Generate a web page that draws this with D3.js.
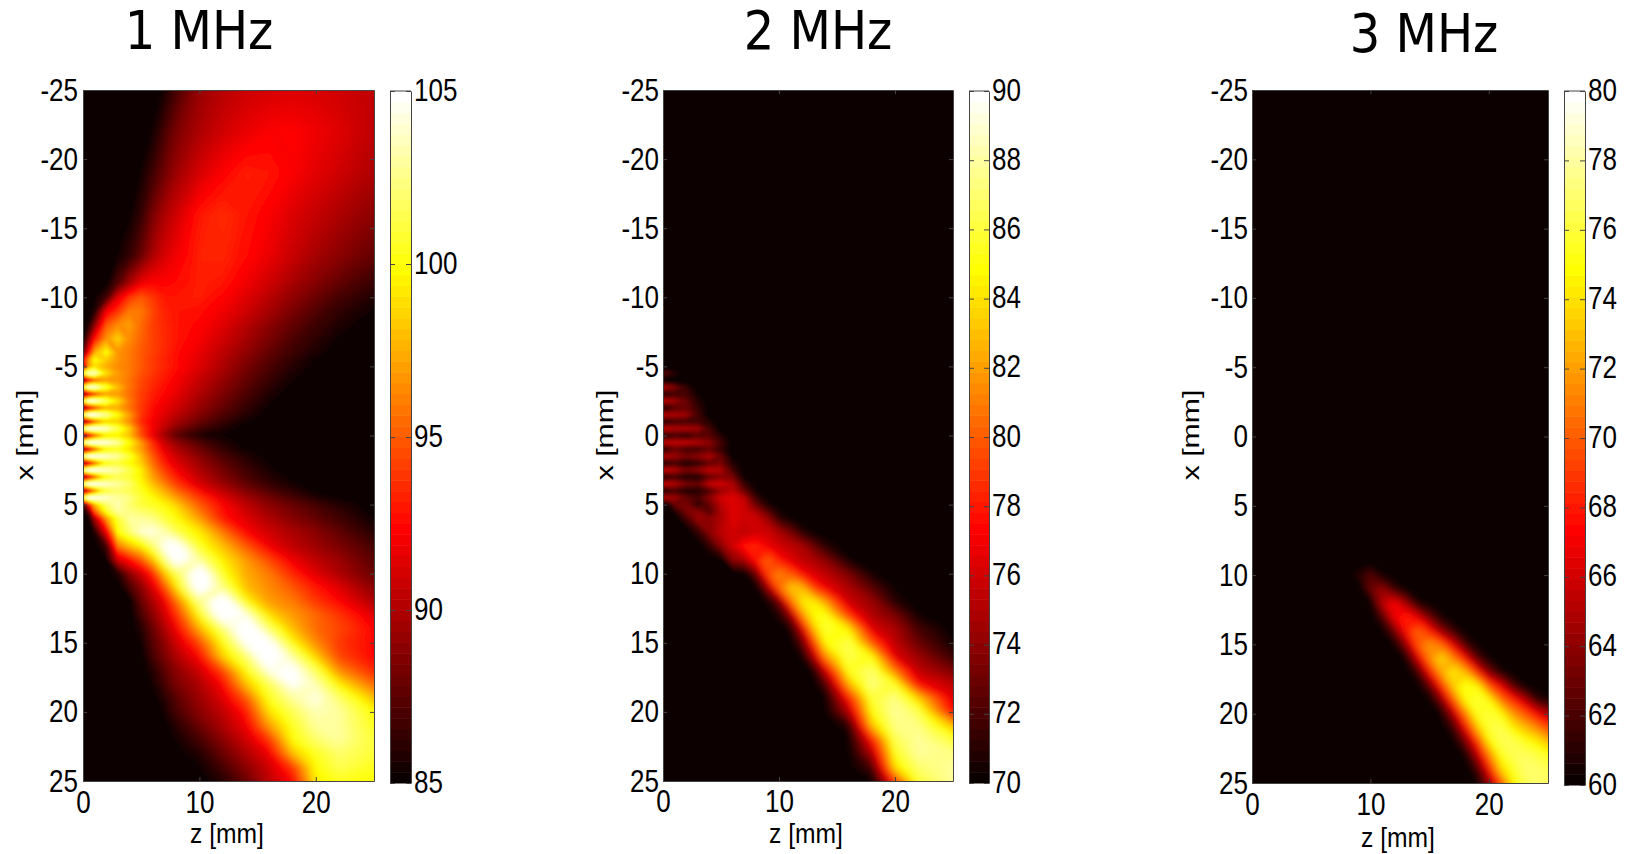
<!DOCTYPE html>
<html>
<head>
<meta charset="utf-8">
<script src="https://cdn.jsdelivr.net/npm/d3@7"></script>
<style>
  html, body { margin: 0; padding: 0; background: #fff; }
  svg { display: block; }
  text { font-family: "Liberation Sans", Arial, sans-serif; fill: #000; }
  .title { font-family: "DejaVu Sans", sans-serif; }
</style>
</head>
<body>
<svg id="chart" width="1630" height="854"></svg>
<script>
// 1 MHz, level, one row per x [mm]
// the core of the beam saturates the colour scale, so its level is only a guess above 105
const zs1 = [0, .5, 1, 2, 3, 4, 5, 6, 7, 8, 10, 12, 14, 16, 18, 20, 22, 25];
const xs1 = [-25, -22, -19, -16, -13, -11, -10, -9, -8, -7, -6, -5.5, -5, -4.5, -4, -3.5, -3, -2.5, -2, -1.5, -1, -.5, 0,
  .5, 1, 1.5, 2, 2.5, 3, 3.5, 4, 4.5, 5, 5.5, 6, 7, 8, 9, 10, 11, 12, 13, 14, 15, 16, 17, 18, 19, 20, 21, 22, 23, 24, 25];
const levels1 = [
  [85,85,85,85,85,85,85,85,85.5,87,89.4,90.3,90.9,91.2,91.4,91.3,91,90.6],
  [85,85,85,85,85,85,85,85.5,87,88.5,90,91,91.8,92.3,92.4,92,91.5,90.5],
  [85,85,85,85,85,85,85.5,86.8,88.2,89.5,91.2,92.4,93.2,93,92.3,91.6,91,90],
  [85,85,85,85,85,85.3,86.5,88.5,90,91,93,93.6,93,92.3,91.4,90.7,90,89],
  [85,85,85,85,85.5,86.5,88,90,91.2,92,93.3,93.4,92.7,91.8,90.8,89.8,89,87.8],
  [85,85,85,85.3,87.5,90,92,92.5,92.5,92.7,93.2,93,92,91,89.8,88.8,87.8,86.5],
  [85,85,85.3,87,91.5,94,95,94,93,93,93.2,92.5,91.5,90.3,89.2,88,87,85.8],
  [85,85,86,92,94,96,96,94.5,93.3,93,92.8,92,91,89.8,88.5,87.3,86.3,85.3],
  [85,86,89,95,96.5,97,95.5,94.2,93.5,93,92.5,91.5,90.3,89,87.8,86.7,85.8,85],
  [85,89,93,96.8,98.5,96.5,95.3,94.3,93.6,93,92.2,91,89.8,88.5,87.2,86.2,85.3,85],
  [88,93,97.5,100,96.8,96,95,94.3,93.5,92.8,91.8,90.5,89.2,87.8,86.7,85.7,85,85],
  [92,97,100,98.5,96.8,96,95,94,93.3,92.7,91.5,90.2,88.8,87.5,86.3,85.3,85,85],
  [90,97,99,97.5,96.5,96,95,94.2,93.4,92.8,91.5,90,88.5,87.2,86,85.2,85,85],
  [100,104,104,99,97,96,94.8,94,93.2,92.5,91,89.7,88.2,86.9,85.7,85,85,85],
  [88,92,95,97,96.8,95.8,94.5,93.7,93,92.2,90.7,89.3,87.8,86.5,85.4,85,85,85],
  [100,104.5,104.5,101,98,95.8,94.5,93.5,92.7,92,90.4,89,87.5,86.2,85.1,85,85,85],
  [88,91,94,97,97,95.6,94.2,93.2,92.5,91.7,90,88.6,87.2,85.8,85,85,85,85],
  [100,104.5,104.5,102,99,96,94.2,93,92.2,91.4,89.7,88.2,86.8,85.5,85,85,85,85],
  [88,91,94,97.5,97.5,95.8,94,92.7,91.8,91,89.3,87.8,86.4,85.2,85,85,85,85],
  [101,105,105,103,100,97,94,92.5,91.5,90.5,88.8,87.3,86,85,85,85,85,85],
  [88,91,95,98.5,98.5,96.5,93.5,92,91,89.8,88,86.5,85.3,85,85,85,85,85],
  [102,105,105,104,101.5,98.5,94.5,92.3,90.5,88.8,87,85.8,85,85,85,85,85,85],
  [88,91,95,99,99.5,98,94.5,91.5,89,87,85.3,85,85,85,85,85,85,85],
  [102,105,105,104.5,103,100,97,93.5,91,89.5,87.5,86,85,85,85,85,85,85],
  [88,91,95,99.5,100.5,99,97,94,91.5,90,88,86.3,85.2,85,85,85,85,85],
  [102,105,105,104,103,101,98,95,92.5,91,89,87.2,86,85,85,85,85,85],
  [88,91,95,100,101,100,98.5,95.5,93,91.5,89.5,87.8,86.3,85.3,85,85,85,85],
  [102,105,105,104,103,101.5,99.5,96.5,94,92.3,90,88.3,86.8,85.6,85,85,85,85],
  [88,91,95,100,101.5,101,99.5,97,95,93,90.6,88.8,87.2,86,85.2,85,85,85],
  [102,105,105,104,103,102,100,98,96,94,91.2,89.3,87.7,86.3,85.5,85,85,85],
  [88,92,96,101,102,101.5,100.5,99,97.5,95.5,92.5,90.5,88.7,87.3,86.2,85.1,85,85],
  [101,105,105,104,103,102.5,101,100,98.5,97,94,91.5,89.7,88.2,87,85.8,85,85],
  [87,93,98,102,103.5,102,101,100.5,100,98.5,95,92.5,90.5,89,88,87,86,85],
  [85,88,95,100.5,103,102.5,102,101.5,100.5,99.5,96,92.8,91,89.5,88.4,87.4,86.4,85.1],
  [85,85.5,90,97,101,103,103,102.5,101,100,97,93,91.5,90,88.8,87.8,86.8,85.3],
  [85,85,86,92,100,102,104,104.5,103.5,101.5,99.5,96,92.5,91,90,89,87.8,86],
  [85,85,85,87,96,98,99.5,102,105,106,100.5,98,95,92,90.5,89.5,88.5,87],
  [85,85,85,85.5,91,93,95,98,102,106.5,103,99.5,97,94.5,92,90.5,89.5,87.5],
  [85,85,85,85,86,89,91,93.5,98,101,107,100.5,97.5,96,93.5,91.5,90,88],
  [85,85,85,85,85,87,89,91.5,94.5,99,106.5,102.5,98,96.5,95,93,91.5,89],
  [85,85,85,85,85,85.3,88,90,92,95.5,102.5,107,100,97,96,94,92.5,90],
  [85,85,85,85,85,85,87,89,91,93.5,100,106.5,104.5,99,97,95.5,94,91.5],
  [85,85,85,85,85,85,86,88,90,92,97.5,102,107,102,98,95.5,94.5,92.5],
  [85,85,85,85,85,85,85.5,87.5,89,91,94.5,100,105,105.5,100,96.5,94,92.5],
  [85,85,85,85,85,85,85,87,88.5,90,92.5,98.5,102,107,103,98.5,94.5,92.5],
  [85,85,85,85,85,85,85,86,87.5,89,91,94.5,100,104.5,105.5,101.5,96.5,93.5],
  [85,85,85,85,85,85,85,85.5,87,88.5,90,92.5,98,101.5,105,103.5,99.5,95.5],
  [85,85,85,85,85,85,85,85,86,87.5,89.5,91.5,95,100.5,103,104.5,102,98],
  [85,85,85,85,85,85,85,85,85.5,87,89,90.5,93,99,101.5,103.5,103,100],
  [85,85,85,85,85,85,85,85,85,86,88,90,92,97,100.5,103,103,100.5],
  [85,85,85,85,85,85,85,85,85,85.5,87,89,91,94,100,102,103,101],
  [85,85,85,85,85,85,85,85,85,85,86,88,90,92,98,100.5,102,101],
  [85,85,85,85,85,85,85,85,85,85,85.3,87,89,91,94,100,101.5,100.5],
  [85,85,85,85,85,85,85,85,85,85,85,86,88,90.5,92.5,99.5,100.5,100]
];

// 2 MHz
const zs2 = [0, .5, 1, 2, 3, 4, 5, 6, 7, 8, 9, 10, 11, 12, 13, 14, 16, 18, 20, 22, 25];
const xs2 = [-25, -5, -4.5, -4, -3.5, -3, -2.5, -2, -1.5, -1, -.5, 0, .5, 1, 1.5, 2, 2.5, 3, 3.5, 4, 4.5, 5, 5.5, 6,
  7, 8, 9, 10, 11, 12, 13, 14, 15, 16, 17, 18, 19, 20, 21, 22, 23, 24, 25];
const levels2 = [
  [70,70,70,70,70,70,70,70,70,70,70,70,70,70,70,70,70,70,70,70,70],
  [70,70,70,70,70,70,70,70,70,70,70,70,70,70,70,70,70,70,70,70,70],
  [72.5,72,71,70,70,70,70,70,70,70,70,70,70,70,70,70,70,70,70,70,70],
  [70,70,70,70,70,70,70,70,70,70,70,70,70,70,70,70,70,70,70,70,70],
  [75,74.5,73.5,71.5,70,70,70,70,70,70,70,70,70,70,70,70,70,70,70,70,70],
  [71,71.5,72,72,70.5,70,70,70,70,70,70,70,70,70,70,70,70,70,70,70,70],
  [75.5,75,74.5,73,71,70,70,70,70,70,70,70,70,70,70,70,70,70,70,70,70],
  [71,71.5,72.5,73,71.5,70,70,70,70,70,70,70,70,70,70,70,70,70,70,70,70],
  [75.5,75,75,74.5,72,70,70,70,70,70,70,70,70,70,70,70,70,70,70,70,70],
  [71,71.5,72,72,72,71,70,70,70,70,70,70,70,70,70,70,70,70,70,70,70],
  [75.5,75.5,75,75,74.5,72,70,70,70,70,70,70,70,70,70,70,70,70,70,70,70],
  [71,71.5,72,71.5,72.5,72.5,71,70,70,70,70,70,70,70,70,70,70,70,70,70,70],
  [75.5,75.5,75.5,75.5,75,74,72,70,70,70,70,70,70,70,70,70,70,70,70,70,70],
  [71,72,73,72,72,73,71.5,70,70,70,70,70,70,70,70,70,70,70,70,70,70],
  [75,75,74.5,73.5,74,75,73,70.3,70,70,70,70,70,70,70,70,70,70,70,70,70],
  [71,71.5,72,71,71.5,73,73.5,71,70,70,70,70,70,70,70,70,70,70,70,70,70],
  [75.5,75.5,75,73.5,74,75.5,75,72,70,70,70,70,70,70,70,70,70,70,70,70,70],
  [71,71.5,72,71,71,73,74,73.5,70.3,70,70,70,70,70,70,70,70,70,70,70,70],
  [75.5,75.5,75,73.5,73,75.5,76,75,71.5,70,70,70,70,70,70,70,70,70,70,70,70],
  [71,71.5,72,71,71,72.5,74.5,75.5,73,70.3,70,70,70,70,70,70,70,70,70,70,70],
  [75,75,74.5,73,72,74,76,76.5,75.5,71.5,70,70,70,70,70,70,70,70,70,70,70],
  [70,71,73,73.5,71.5,73,75.5,76.5,76,73,70.3,70,70,70,70,70,70,70,70,70,70],
  [70,70,71,73.5,74,72.5,75,76.5,76,75,72.5,70.3,70,70,70,70,70,70,70,70,70],
  [70,70,70,72,74.5,74,75,76.5,76,76,74.5,71,70,70,70,70,70,70,70,70,70],
  [70,70,70,70,71.5,74,75.5,76,75.5,76,76,75,73.5,71,70,70,70,70,70,70,70],
  [70,70,70,70,70,71.5,74,76,78,78.5,77,76,75.5,75,73,71,70,70,70,70,70],
  [70,70,70,70,70,70,70.5,74,75,78,80.5,78,76.5,75.5,75,74,70.5,70,70,70,70],
  [70,70,70,70,70,70,70,70,70.3,73,79.5,81.5,80,77.5,76.3,75.5,73.5,70.5,70,70,70],
  [70,70,70,70,70,70,70,70,70,70,74,80.5,83.5,83,79,77,75,72.5,70.3,70,70],
  [70,70,70,70,70,70,70,70,70,70,70.5,73,80.5,84.5,84.5,82,75.8,74.5,71,70,70],
  [70,70,70,70,70,70,70,70,70,70,70,70.8,74,81.5,85,85.5,79,75,73.5,70.5,70],
  [70,70,70,70,70,70,70,70,70,70,70,70,70.5,76,83,86,84.5,76.5,75,72,70],
  [70,70,70,70,70,70,70,70,70,70,70,70,70,72.5,79,85,86.5,80,75.5,73,70.5],
  [70,70,70,70,70,70,70,70,70,70,70,70,70,70.3,75,81.5,86.5,85,76.5,74.5,71.5],
  [70,70,70,70,70,70,70,70,70,70,70,70,70,70,70.5,76,85.5,87,81,75.5,73.5],
  [70,70,70,70,70,70,70,70,70,70,70,70,70,70,70,72,82.5,87.5,85.5,77.5,75.5],
  [70,70,70,70,70,70,70,70,70,70,70,70,70,70,70,70,78,86,87.5,83.5,76.5],
  [70,70,70,70,70,70,70,70,70,70,70,70,70,70,70,70,75,85,88,86.5,77.5],
  [70,70,70,70,70,70,70,70,70,70,70,70,70,70,70,70,71,83,87.5,87.5,83],
  [70,70,70,70,70,70,70,70,70,70,70,70,70,70,70,70,70,78,86.5,88,86],
  [70,70,70,70,70,70,70,70,70,70,70,70,70,70,70,70,70,75,85.5,88,87.5],
  [70,70,70,70,70,70,70,70,70,70,70,70,70,70,70,70,70,72,84,87,88],
  [70,70,70,70,70,70,70,70,70,70,70,70,70,70,70,70,70,70,79,86,88]
];

// 3 MHz
const zs3 = [0, 8, 9, 10, 11, 12, 13, 14, 15, 16, 17, 18, 19, 20, 21, 22, 23, 24, 25];
const xs3 = [-25, 9, 10, 11, 12, 13, 14, 15, 16, 17, 18, 19, 20, 21, 22, 23, 24, 25];
const levels3 = [
  [60,60,60,60,60,60,60,60,60,60,60,60,60,60,60,60,60,60,60],
  [60,60,60,60,60,60,60,60,60,60,60,60,60,60,60,60,60,60,60],
  [60,60,61,62.5,60.3,60,60,60,60,60,60,60,60,60,60,60,60,60,60],
  [60,60,60,63,64.5,61.5,60,60,60,60,60,60,60,60,60,60,60,60,60],
  [60,60,60,60,65.5,67.5,64.5,60.5,60,60,60,60,60,60,60,60,60,60,60],
  [60,60,60,60,62,67,68.5,66.5,63,60.5,60,60,60,60,60,60,60,60,60],
  [60,60,60,60,60,63,68,70.5,68,64,61.5,60,60,60,60,60,60,60,60],
  [60,60,60,60,60,60,64,70,72,70.5,66.5,62,60.3,60,60,60,60,60,60],
  [60,60,60,60,60,60,60.3,66,71.5,74,71.5,67.5,62.5,60.5,60,60,60,60,60],
  [60,60,60,60,60,60,60,61.5,67.5,72.5,74.5,73,68.5,63.5,60.8,60,60,60,60],
  [60,60,60,60,60,60,60,60,62.5,68.5,73.5,75.5,75,70,67,62.5,60,60,60],
  [60,60,60,60,60,60,60,60,60,63.5,70,75,76,75,71,68.5,65.5,61.5,60.5],
  [60,60,60,60,60,60,60,60,60,60.2,65,71,75.5,76,75,72,70,67.5,65],
  [60,60,60,60,60,60,60,60,60,60,61.5,67,73,76,76.5,74.5,73,71.5,69.5],
  [60,60,60,60,60,60,60,60,60,60,60,63,68.5,74.5,76.5,76.5,75.5,74.5,73],
  [60,60,60,60,60,60,60,60,60,60,60,60,65,71,75.3,76.5,76.8,76.3,75.5],
  [60,60,60,60,60,60,60,60,60,60,60,60,61.5,67.5,73.5,75.5,77,77,76.5],
  [60,60,60,60,60,60,60,60,60,60,60,60,60,64,69.5,74.5,76.5,77,76.8]
];

const zTicks = [0, 10, 20];
const xTicks = [-25, -20, -15, -10, -5, 0, 5, 10, 15, 20, 25];
const barTicks1 = [85, 90, 95, 100, 105];
const barTicks2 = [70, 72, 74, 76, 78, 80, 82, 84, 86, 88, 90];
const barTicks3 = [60, 62, 64, 66, 68, 70, 72, 74, 76, 78, 80];

// sharpTo: z [mm] up to which the element fingers stay crisp
const panels = [
  { title: "1 MHz", titleX: 199, titleY: 49, zs: zs1, xs: xs1, levels: levels1, range: [85, 105], barTicks: barTicks1, sharpTo: 4,
    left: 83, right: 374, top: 90, bottom: 781, barLeft: 390, barRight: 411, barTop: 91, barBottom: 783,
    xLabelX: 24, zLabelX: 227, zLabelY: 843, xTickY: 813, tickGap: 5 },
  { title: "2 MHz", titleX: 818, titleY: 49, zs: zs2, xs: xs2, levels: levels2, range: [70, 90], barTicks: barTicks2, sharpTo: 6,
    left: 663, right: 953, top: 90, bottom: 781, barLeft: 969, barRight: 989, barTop: 91, barBottom: 783,
    xLabelX: 604, zLabelX: 806, zLabelY: 843, xTickY: 812, tickGap: 4 },
  { title: "3 MHz", titleX: 1424, titleY: 52, zs: zs3, xs: xs3, levels: levels3, range: [60, 80], barTicks: barTicks3, sharpTo: 8,
    left: 1252, right: 1548, top: 90, bottom: 783, barLeft: 1564, barRight: 1585, barTop: 91, barBottom: 785,
    xLabelX: 1190, zLabelX: 1398, zLabelY: 847, xTickY: 815, tickGap: 4 }
];

// matlab "hot"
const hot = d3.scaleLinear()
  .domain([0, .375, .75, 1])
  .range(["#000000", "#ff0000", "#ffff00", "#ffffff"])
  .clamp(true);

const frameColor = "#444";
const narrow = .84;
const svg = d3.select("#chart");
const defs = svg.append("defs");

// the reference is a soft jpeg, blur also hides the grid facets away from the fingers
defs.append("filter").attr("id", "soft")
  .append("feGaussianBlur").attr("stdDeviation", 1.2);
defs.append("filter").attr("id", "wide")
  .append("feGaussianBlur").attr("stdDeviation", 3.5);

panels.forEach((p, idx) => {
  const g = svg.append("g");
  const zScale = d3.scaleLinear().domain([0, 25]).range([p.left, p.right]);
  const xScale = d3.scaleLinear().domain([-25, 25]).range([p.top, p.bottom]);
  const tone = d3.scaleLinear().domain(p.range).range([0, 1]);

  // sample index -> pixel, the grid is not evenly spaced.
  // the outer half cell runs past the frame so the blur does not fade at the edges
  const bleed = 14;
  const edgeScale = (positions) => d3.scaleLinear()
    .domain([-.5, ...d3.range(positions.length), positions.length - .5])
    .range([positions[0] - bleed, ...positions, positions[positions.length - 1] + bleed]);
  const colPx = edgeScale(p.zs.map(zScale));
  const rowPx = edgeScale(p.xs.map(xScale));
  const path = d3.geoPath(d3.geoTransform({
    point(cx, cy) { this.stream.point(colPx(cx - .5), rowPx(cy - .5)); }
  }));

  const steps = 128;
  const thresholds = d3.range(1, steps).map(i => p.range[0] + (p.range[1] - p.range[0]) * i / steps);
  const contours = d3.contours()
    .size([p.zs.length, p.xs.length])
    .thresholds(thresholds)(p.levels.flat());

  defs.append("clipPath")
    .attr("id", `plot-${idx}`)
    .append("rect")
    .attr("x", p.left).attr("y", p.top)
    .attr("width", p.right - p.left).attr("height", p.bottom - p.top);

  // fade mask for the crisp copy, left part only
  const fade = defs.append("linearGradient")
    .attr("id", `fade-${idx}`)
    .attr("gradientUnits", "userSpaceOnUse")
    .attr("x1", zScale(p.sharpTo)).attr("x2", zScale(p.sharpTo + 3))
    .attr("y1", 0).attr("y2", 0);
  fade.append("stop").attr("offset", 0).attr("stop-color", "#fff");
  fade.append("stop").attr("offset", 1).attr("stop-color", "#000");
  defs.append("mask")
    .attr("id", `crisp-${idx}`)
    .attr("maskUnits", "userSpaceOnUse")
    .attr("x", p.left - bleed).attr("y", p.top - bleed)
    .attr("width", p.right - p.left + 2 * bleed).attr("height", p.bottom - p.top + 2 * bleed)
    .append("rect")
    .attr("x", p.left - bleed).attr("y", p.top - bleed)
    .attr("width", p.right - p.left + 2 * bleed).attr("height", p.bottom - p.top + 2 * bleed)
    .attr("fill", `url(#fade-${idx})`);

  const drawField = (parent, filterId) => {
    const layer = parent.append("g").attr("filter", `url(#${filterId})`);
    layer.append("rect")
      .attr("x", p.left - bleed).attr("y", p.top - bleed)
      .attr("width", p.right - p.left + 2 * bleed).attr("height", p.bottom - p.top + 2 * bleed)
      .attr("fill", "#0b0000");
    layer.selectAll("path")
      .data(contours)
      .join("path")
      .attr("d", path)
      .attr("fill", d => hot(tone(d.value) + 1 / steps));
  };
  const field = g.append("g").attr("clip-path", `url(#plot-${idx})`);
  drawField(field, "wide");
  drawField(field.append("g").attr("mask", `url(#crisp-${idx})`), "soft");

  // axes, ticks pointing inward on all four sides
  const tickColor = (sel) => {
    sel.selectAll("path, line").attr("stroke", frameColor);
  };
  const label = d => String(d);
  const yAxis = g.append("g")
    .attr("transform", `translate(${p.left},0)`)
    .call(d3.axisLeft(xScale).tickValues(xTicks).tickFormat(label).tickSizeInner(-4).tickSizeOuter(0).tickPadding(0))
    .call(tickColor);
  yAxis.selectAll("text")
    .attr("x", null).attr("dy", null)
    .attr("transform", `translate(-${p.tickGap},10) scale(${narrow},1)`)
    .style("font", "31px 'Liberation Sans'");
  const xAxis = g.append("g")
    .attr("transform", `translate(0,${p.bottom})`)
    .call(d3.axisBottom(zScale).tickValues(zTicks).tickFormat(label).tickSizeInner(-4).tickSizeOuter(0).tickPadding(0))
    .call(tickColor);
  xAxis.selectAll("text")
    .attr("y", null).attr("dy", null)
    .attr("transform", `translate(0,${p.xTickY - p.bottom}) scale(${narrow},1)`)
    .style("font", "31px 'Liberation Sans'");
  g.append("g")
    .attr("transform", `translate(0,${p.top})`)
    .call(d3.axisTop(zScale).tickValues(zTicks).tickSizeInner(-4).tickSizeOuter(0).tickFormat(""))
    .call(tickColor);
  g.append("g")
    .attr("transform", `translate(${p.right},0)`)
    .call(d3.axisRight(xScale).tickValues(xTicks).tickSizeInner(-4).tickSizeOuter(0).tickFormat(""))
    .call(tickColor);

  // axis labels
  g.append("text")
    .attr("transform", `translate(${p.xLabelX + 9},435) rotate(-90) scale(1.08,.88)`)
    .attr("text-anchor", "middle")
    .style("font-size", "28px")
    .text("x [mm]");
  g.append("text")
    .attr("transform", `translate(${p.zLabelX},${p.zLabelY}) scale(.88,1)`)
    .attr("text-anchor", "middle")
    .style("font-size", "28px")
    .text("z [mm]");

  // colorbar
  const barScale = d3.scaleLinear().domain(p.range).range([p.barBottom, p.barTop]);
  const step = (p.range[1] - p.range[0]) / 64;
  g.append("g").selectAll("rect")
    .data(d3.range(64))
    .join("rect")
    .attr("x", p.barLeft)
    .attr("width", p.barRight - p.barLeft)
    .attr("y", i => barScale(p.range[0] + (i + 1) * step))
    .attr("height", i => barScale(p.range[0] + i * step) - barScale(p.range[0] + (i + 1) * step) + .5)
    .attr("fill", i => hot((i + 1) / 64));
  const barAxis = g.append("g")
    .attr("transform", `translate(${p.barRight},0)`)
    .call(d3.axisRight(barScale).tickValues(p.barTicks).tickFormat(label).tickSizeInner(-5).tickSizeOuter(0).tickPadding(0))
    .call(tickColor);
  barAxis.selectAll("text")
    .attr("x", null).attr("dy", null)
    .attr("text-anchor", "start")
    .attr("transform", `translate(3,9) scale(${narrow},1)`)
    .style("font", "31px 'Liberation Sans'");
  g.append("g")
    .attr("transform", `translate(${p.barLeft},0)`)
    .call(d3.axisLeft(barScale).tickValues(p.barTicks).tickSizeInner(-5).tickSizeOuter(0).tickFormat(""))
    .call(tickColor);
  g.append("line")
    .attr("x1", p.barLeft).attr("x2", p.barRight)
    .attr("y1", p.barTop).attr("y2", p.barTop)
    .attr("stroke", frameColor);

  // title
  g.append("text")
    .attr("class", "title")
    .attr("transform", `translate(${p.titleX},${p.titleY}) scale(.89,1)`)
    .attr("text-anchor", "middle")
    .style("font-size", "54px")
    .text(p.title);
});
</script>
</body>
</html>
